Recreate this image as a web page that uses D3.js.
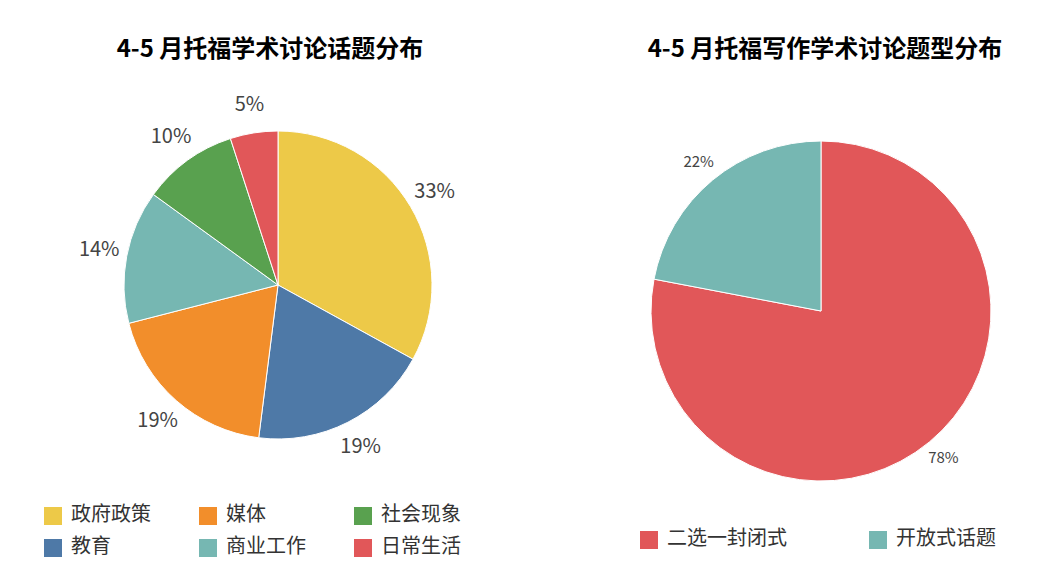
<!DOCTYPE html>
<html>
<head>
<meta charset="utf-8">
<script src="https://cdn.jsdelivr.net/npm/d3@7"></script>
<style>
  body { margin: 0; background: #fff; }
  text { font-family: "Noto Sans CJK SC", "Noto Sans", sans-serif; }
</style>
</head>
<body>
<svg id="chart" width="1062" height="588"></svg>
<script>
// ===== Data =====
var leftCategories = ["政府政策", "教育", "媒体", "商业工作", "社会现象", "日常生活"];
var leftValues = [33, 19, 19, 14, 10, 5];
var leftColors = ["#EDC948", "#4E79A7", "#F28E2B", "#76B7B2", "#59A14F", "#E15759"];
var leftLegendOrder = ["政府政策", "媒体", "社会现象", "教育", "商业工作", "日常生活"];

var rightCategories = ["二选一封闭式", "开放式话题"];
var rightValues = [78, 22];
var rightColors = ["#E15759", "#76B7B2"];

var svg = d3.select("#chart");

// draws one pie with outside percent labels
function drawPie(cx, cy, radius, cats, vals, colors, labelR, fontSize) {
  var g = svg.append("g").attr("transform", `translate(${cx}, ${cy})`);
  var pie = d3.pie().sort(null).value(d => d.v);
  var data = pie(cats.map((c, i) => ({ c: c, v: vals[i], col: colors[i] })));
  var arc = d3.arc().innerRadius(0).outerRadius(radius);
  var labelArc = d3.arc().innerRadius(labelR).outerRadius(labelR);

  g.selectAll("path").data(data).enter().append("path")
    .attr("d", arc)
    .attr("fill", d => d.data.col)
    .attr("stroke", "#fff")
    .attr("stroke-width", 1);

  g.selectAll(".lbl").data(data).enter().append("text")
    .attr("class", "lbl")
    .attr("transform", d => `translate(${labelArc.centroid(d)})`)
    .attr("text-anchor", "middle")
    .attr("dominant-baseline", "middle")
    .attr("font-size", fontSize)
    .attr("fill", "#444")
    .text(d => d.data.v + "%");
}

// titles
svg.append("text").attr("x", 270).attr("y", 57).attr("text-anchor", "middle")
  .attr("font-size", 24).attr("font-weight", "bold").attr("fill", "#000")
  .text("4-5 月托福学术讨论话题分布");
svg.append("text").attr("x", 825).attr("y", 57).attr("text-anchor", "middle")
  .attr("font-size", 24).attr("font-weight", "bold").attr("fill", "#000")
  .text("4-5 月托福写作学术讨论题型分布");

drawPie(278, 285, 154, leftCategories, leftValues, leftColors, 182, 20);
drawPie(821, 311, 170, rightCategories, rightValues, rightColors, 192, 15);

// left legend
var colorOf = d3.scaleOrdinal().domain(leftCategories).range(leftColors);
leftLegendOrder.forEach(function(name, i) {
  var x = 44 + (i % 3) * 155;
  var y = 516 + Math.floor(i / 3) * 32;
  svg.append("rect").attr("x", x).attr("y", y - 9).attr("width", 18).attr("height", 18)
    .attr("fill", colorOf(name));
  svg.append("text").attr("x", x + 27).attr("y", y).attr("dominant-baseline", "middle")
    .attr("font-size", 20).attr("fill", "#333").text(name);
});

// right legend
rightCategories.forEach(function(name, i) {
  var x = 640 + i * 229;
  var y = 540;
  svg.append("rect").attr("x", x).attr("y", y - 9).attr("width", 18).attr("height", 18)
    .attr("fill", rightColors[i]);
  svg.append("text").attr("x", x + 27).attr("y", y).attr("dominant-baseline", "middle")
    .attr("font-size", 20).attr("fill", "#333").text(name);
});
</script>
</body>
</html>
